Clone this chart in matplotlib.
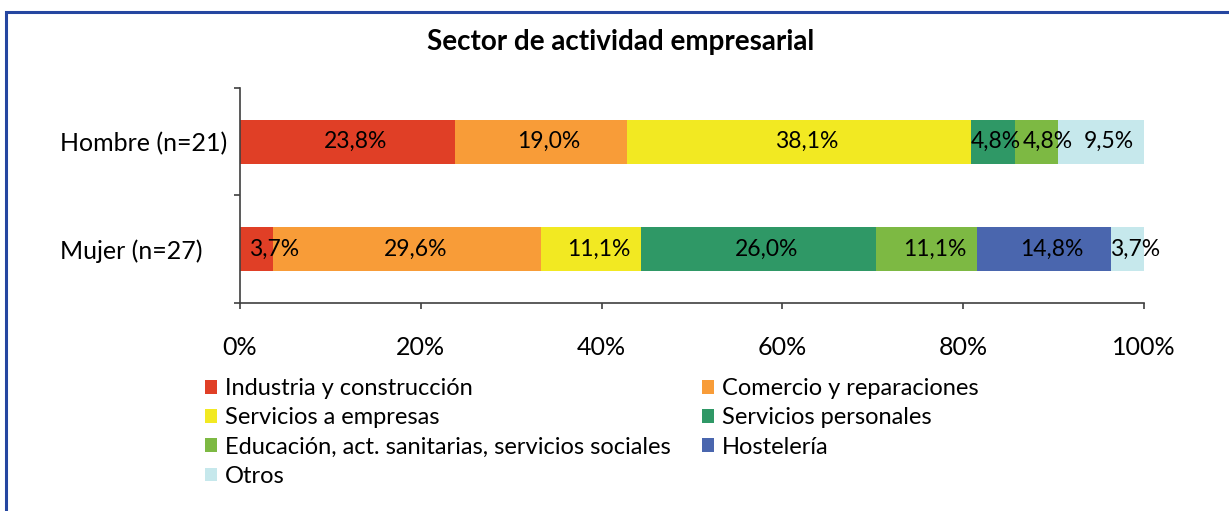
import matplotlib
matplotlib.use("Agg")
import matplotlib.pyplot as plt
from matplotlib.patches import Rectangle, Patch
import numpy as np

plt.rcParams['font.family'] = ['Lato', 'DejaVu Sans']

title = "Sector de actividad empresarial"
groups = ["Hombre (n=21)", "Mujer (n=27)"]
sectors = ["Industria y construcción", "Comercio y reparaciones", "Servicios a empresas",
           "Servicios personales", "Educación, act. sanitarias, servicios sociales",
           "Hostelería", "Otros"]
hombre = [23.8, 19.0, 38.1, 4.8, 4.8, 0.0, 9.5]
mujer = [3.7, 29.6, 11.1, 26.0, 11.1, 14.8, 3.7]
colors = ["#e03f26", "#f89c38", "#f2e922", "#2f9866", "#7db943", "#4a66ae", "#c6e8ec"]
xticks = [0, 20, 40, 60, 80, 100]
xticklabels = ["0%", "20%", "40%", "60%", "80%", "100%"]

W, H = 1229, 511
PT = 72 / 100  # points per pixel
fig = plt.figure(figsize=(W / 100, H / 100), dpi=100)
ax = fig.add_axes([240 / W, 208 / H, 904 / W, 215 / H])

data = np.array([hombre, mujer])
ypos = np.arange(len(groups))
left = np.zeros(len(groups))
fs_lab = 16.5
fs = 18
fs_leg = 17
rows = {i: [] for i in range(len(groups))}
for j, name in enumerate(sectors):
    vals = data[:, j]
    ax.barh(ypos, vals, left=left, height=0.41, color=colors[j], label=name, zorder=2)
    for i in range(len(groups)):
        v = vals[i]
        if v <= 0:
            continue
        c = left[i] + v / 2
        lab = f"{v:.1f}%".replace(".", ",")
        t = ax.annotate(lab, (c, ypos[i]), xytext=(8 * PT, 0), textcoords="offset points",
                        ha="center", va="center", fontsize=fs_lab, color="black", zorder=3)
        rows[i].append(t)
    left = left + vals

ax.set_xlim(0, 100)
ax.set_ylim(1.5, -0.5)
ax.set_xticks(xticks)
ax.set_xticklabels(xticklabels, fontsize=fs)
ax.set_yticks(ypos)
ax.set_yticklabels(groups, fontsize=fs)
for lbl in ax.get_yticklabels():
    lbl.set_horizontalalignment("left")
ax.set_yticks([-0.5, 0.5, 1.5], minor=True)
ax.tick_params(axis="y", which="major", length=0, pad=(240 - 60) * PT)
ax.tick_params(axis="y", which="minor", length=4.5, width=1.2, color="#404040")
ax.tick_params(axis="x", which="major", length=4.5, width=1.2, color="#404040", pad=19)
for s in ["top", "right"]:
    ax.spines[s].set_visible(False)
for s in ["left", "bottom"]:
    ax.spines[s].set_color("#404040")
    ax.spines[s].set_linewidth(1.2)

fig.text(621 / W, 1 - 42 / H, title, ha="center", va="center", fontsize=20,
         fontweight="bold")

handles = [Patch(facecolor=colors[j], edgecolor="none") for j in range(len(sectors))]
col1 = [0, 2, 4, 6]
col2 = [1, 3, 5]
common = dict(frameon=False, fontsize=fs_leg, handlelength=0.52, handleheight=0.52,
              handletextpad=0.34, labelspacing=0.35, borderpad=0, borderaxespad=0,
              loc="upper left")
fig.legend([handles[j] for j in col1], [sectors[j] for j in col1],
           bbox_to_anchor=(205 / W, 1 - 378 / H), **common)
fig.legend([handles[j] for j in col2], [sectors[j] for j in col2],
           bbox_to_anchor=(702 / W, 1 - 378 / H), **common)

fig.add_artist(Rectangle((6 / W, -0.2), 1.2, 1 - 12 / H + 0.2, transform=fig.transFigure,
                         fill=False, edgecolor="#2546a0", linewidth=2.2))

# keep labels apart and inside the plot
fig.canvas.draw()
r = fig.canvas.get_renderer()
ax_x0 = ax.get_window_extent(r).x0
for i, texts in rows.items():
    e = texts[0].get_window_extent(r)
    if e.x0 < ax_x0 + 9:
        dx = (ax_x0 + 9 - e.x0) * PT
        texts[0].xyann = (texts[0].xyann[0] + dx, 0)
    for a, b in zip(texts[:-1], texts[1:]):
        ea = a.get_window_extent(r)
        eb = b.get_window_extent(r)
        ov = ea.x1 - eb.x0 + 2
        if ov > 0:
            a.xyann = (a.xyann[0] - ov * PT * 0.6, 0)
            b.xyann = (b.xyann[0] + ov * PT * 0.4, 0)

fig.savefig("out.png", dpi=100)
